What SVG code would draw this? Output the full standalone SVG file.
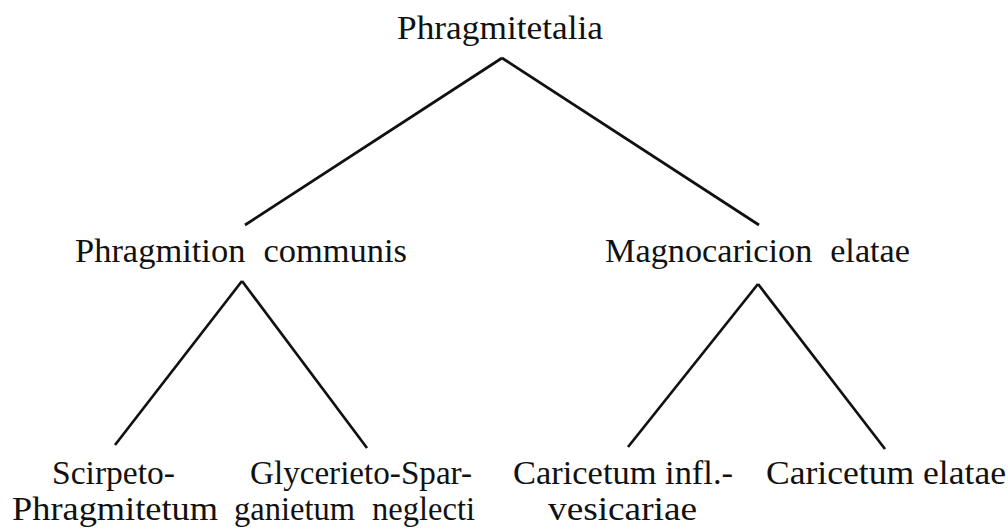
<svg xmlns="http://www.w3.org/2000/svg" width="1008" height="530" viewBox="0 0 1008 530">
  <style>
    .lbl { font-family: 'Liberation Serif', 'DejaVu Serif', serif; font-size: 33px; fill: #111; }
    .wide { word-spacing: 9px; }
    .edge { stroke: #111; stroke-width: 2.7; fill: none; stroke-linecap: butt; }
  </style>
  <rect x="0" y="0" width="1008" height="530" fill="#ffffff"/>
  <g id="connectors">
    <line class="edge" x1="502" y1="58" x2="245" y2="225"/>
    <line class="edge" x1="502" y1="58" x2="759" y2="225"/>
    <line class="edge" x1="242" y1="281" x2="115" y2="445"/>
    <line class="edge" x1="242" y1="281" x2="367" y2="448"/>
    <line class="edge" x1="758" y1="284" x2="628" y2="447"/>
    <line class="edge" x1="758" y1="284" x2="885" y2="449"/>
  </g>
  <g id="node-phragmitetalia">
    <text class="lbl" x="397" y="39" textLength="206" lengthAdjust="spacingAndGlyphs">Phragmitetalia</text>
  </g>
  <g id="node-phragmition">
    <text class="lbl wide" x="75" y="262" textLength="332" lengthAdjust="spacingAndGlyphs">Phragmition communis</text>
  </g>
  <g id="node-magnocaricion">
    <text class="lbl wide" x="605" y="262" textLength="305" lengthAdjust="spacingAndGlyphs">Magnocaricion elatae</text>
  </g>
  <g id="node-scirpeto">
    <text class="lbl" x="52" y="484" textLength="123" lengthAdjust="spacingAndGlyphs">Scirpeto-</text>
    <text class="lbl" x="12" y="520" textLength="206" lengthAdjust="spacingAndGlyphs">Phragmitetum</text>
  </g>
  <g id="node-glycerieto">
    <text class="lbl" x="250" y="484" textLength="222" lengthAdjust="spacingAndGlyphs">Glycerieto-Spar-</text>
    <text class="lbl wide" x="234" y="520" textLength="241" lengthAdjust="spacingAndGlyphs">ganietum neglecti</text>
  </g>
  <g id="node-caricetum-infl">
    <text class="lbl" x="513" y="484" textLength="220" lengthAdjust="spacingAndGlyphs">Caricetum infl.-</text>
    <text class="lbl" x="548" y="520" textLength="149" lengthAdjust="spacingAndGlyphs">vesicariae</text>
  </g>
  <g id="node-caricetum-elatae">
    <text class="lbl" x="766" y="484" textLength="240" lengthAdjust="spacingAndGlyphs">Caricetum elatae</text>
  </g>
</svg>
